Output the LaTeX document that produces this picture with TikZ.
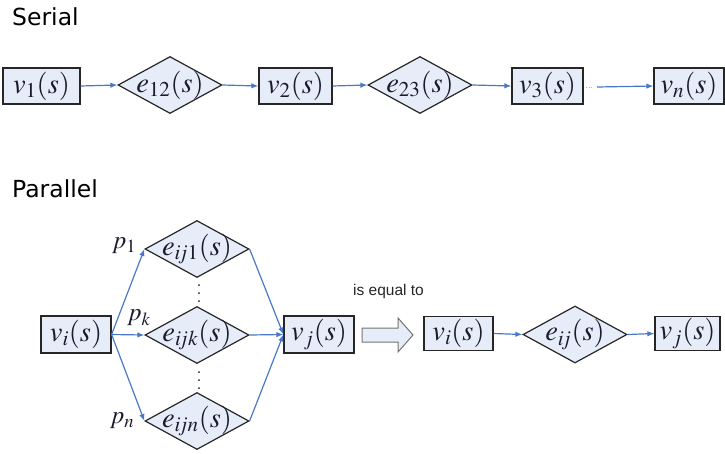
\documentclass[tikz,border=0pt]{standalone}
\usepackage{mathptmx}
\usepackage{fontspec}
\setmainfont{Liberation Serif}
\newfontfamily\titlefont{DejaVu Sans}
\newfontfamily\arialfont{Liberation Sans}
\usetikzlibrary{shapes.geometric,arrows.meta}
\definecolor{boxfill}{HTML}{E6EDF8}
\definecolor{arrblue}{HTML}{4A78C8}
\definecolor{txt}{HTML}{1B1B30}
\begin{document}
\begin{tikzpicture}[x=1pt,y=-1pt,
  box/.style={rectangle, draw=black!85, fill=boxfill, line width=1.2pt, minimum height=36pt, inner sep=0pt},
  dia/.style={diamond, draw=black!85, fill=boxfill, line width=1.2pt, minimum width=104pt, minimum height=57pt, inner sep=0pt},
  mt/.style={text=txt, font=\fontsize{28.5}{32}\selectfont, inner sep=0pt},
  pl/.style={text=txt, font=\fontsize{25}{28}\selectfont, inner sep=0pt},
  arr/.style={draw=arrblue, line width=1.2pt, -{Latex[length=7pt,width=5.5pt]}},
  title/.style={font=\titlefont\fontsize{23.5}{26}\selectfont, text=black, inner sep=0pt, anchor=base west},
]
\useasboundingbox (0,0) rectangle (725,453);

% ---------- Serial ----------
\node[title] (tser) at (12,25) {Serial};

\node[box, minimum width=77pt] (v1) at (41.5,86) {};
\node[mt] (v1t) at (v1) {$v_1(s)$};
\node[dia] (e12) at (170,85) {};
\node[mt] (e12t) at (e12) {$e_{12}(s)$};
\node[box, minimum width=73pt] (v2) at (295.5,86) {};
\node[mt] (v2t) at (v2) {$v_2(s)$};
\node[dia] (e23) at (420,85) {};
\node[mt] (e23t) at (e23) {$e_{23}(s)$};
\node[box, minimum width=71pt] (v3) at (547.5,86) {};
\node[mt] (v3t) at (v3) {$v_3(s)$};
\node[box, minimum width=70pt] (vn) at (689,86) {};
\node[mt] (vnt) at (vn) {$v_n(s)$};

\draw[arr] (v1.east) -- (e12.west);
\draw[arr] (e12.east) -- (v2.west);
\draw[arr] (v2.east) -- (e23.west);
\draw[arr] (e23.east) -- (v3.west);
\coordinate (dd1) at (586,87);
\coordinate (dd2) at (593,87);
\coordinate (dd3) at (597,87);
\draw[gray!60, dotted, line width=0.7pt] (dd1) -- (dd2);
\draw[arr] (dd3) -- (vn.west);

% ---------- Parallel ----------
\node[title] (tpar) at (12,197) {Parallel};

\node[box, minimum width=70pt, minimum height=37pt] (vi) at (76,334.5) {};
\node[mt] (vit) at (vi) {$v_i(s)$};
\node[dia] (d1) at (197,249) {};
\node[mt] (d1t) at (d1) {$e_{i\!j1}(s)$};
\node[dia] (dk) at (197,335) {};
\node[mt] (dkt) at (dk) {$e_{i\!jk}(s)$};
\node[dia] (dn) at (197,421) {};
\node[mt] (dnt) at (dn) {$e_{i\!jn}(s)$};
\node[box, minimum width=70pt, minimum height=37pt] (vj) at (319,334.5) {};
\node[mt] (vjt) at (vj) {$v_j(s)$};

\node[pl] (p1) at (124,246) {$p_1$};
\node[pl] (pk) at (139,318) {$p_k$};
\node[pl] (pn) at (122,421) {$p_n$};

\foreach \yy in {285,293,301,372,380,388}
  \fill[black!85] (199,\yy) circle (1pt);

\draw[arr] (vi.east) -- (d1.west);
\draw[arr] (vi.east) -- (dk.west);
\draw[arr] (vi.east) -- (dn.west);
\draw[arr] (d1.east) -- (vj.west);
\draw[arr] (dk.east) -- (vj.west);
\draw[arr] (dn.east) -- (vj.west);

% ---------- is equal to ----------
\node[font=\arialfont\fontsize{15.5}{18}\selectfont, text=black!85, inner sep=0pt, anchor=base west] (eq) at (353,295) {is equal to};
\draw[draw=black!55, fill=boxfill, line width=1pt]
  (362,328) -- (398,328) -- (398,318) -- (413,335) -- (398,352) -- (398,342) -- (362,342) -- cycle;

\node[box, minimum width=69pt, minimum height=34pt] (vi2) at (458.5,333.5) {};
\node[mt] (vi2t) at (vi2) {$v_i(s)$};
\node[dia] (eij) at (575,334.5) {};
\node[mt] (eijt) at (eij) {$e_{i\!j}(s)$};
\node[box, minimum width=65pt, minimum height=34pt] (vj2) at (687.5,333.5) {};
\node[mt] (vj2t) at (vj2) {$v_j(s)$};

\draw[arr] (vi2.east) -- (eij.west);
\draw[arr] (eij.east) -- (vj2.west);
\end{tikzpicture}
\end{document}
